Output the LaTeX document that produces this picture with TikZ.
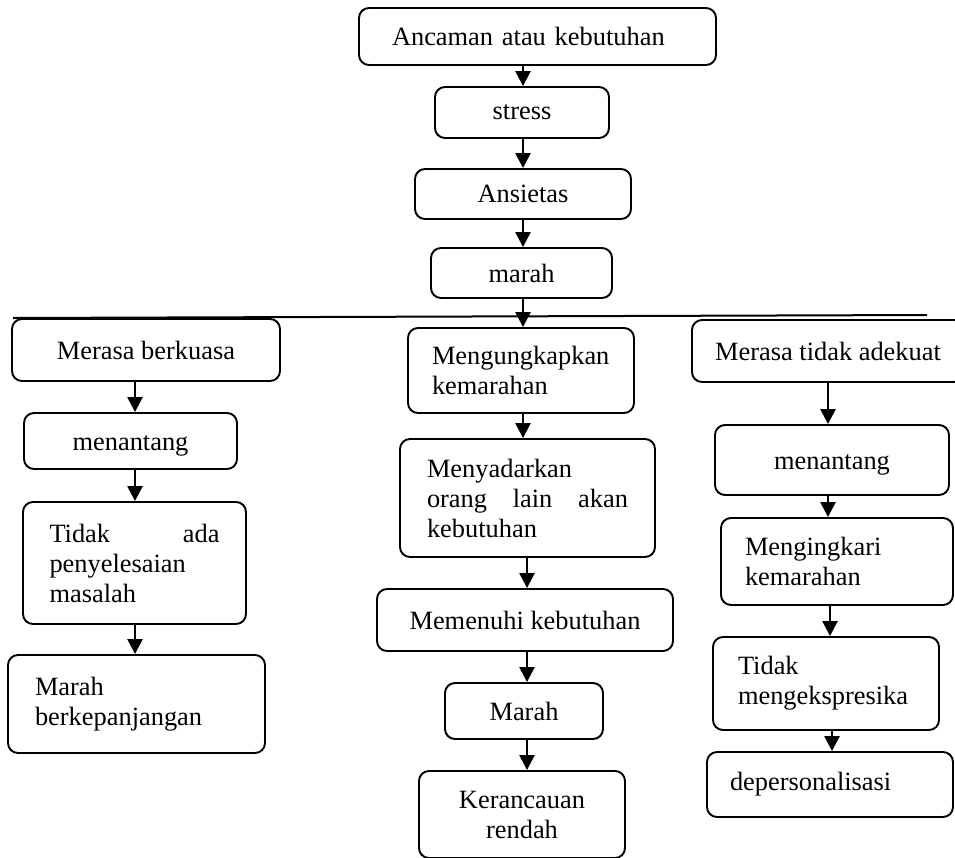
\documentclass[tikz,border=0pt]{standalone}
\usepackage{fontspec}
\setmainfont{Liberation Serif}
\usetikzlibrary{arrows.meta}
\begin{document}
\begin{tikzpicture}[x=1pt,y=-1pt,
  box/.style={draw, line width=1.9pt, rounded corners=10pt, inner sep=0pt,
    font=\fontsize{26.4}{30}\selectfont},
  cbox/.style={box, align=center},
  lbox/.style={box, align=left},
  arr/.style={line width=2.5pt, -{Triangle[length=15pt,width=15pt]}},
  hline/.style={line width=2pt}
  ]
\useasboundingbox (0,0) rectangle (955,857);
\fill[white] (0,0) rectangle (955,857);
\clip (0,0) rectangle (955,857);

% top chain
\node[lbox, minimum width=357pt, minimum height=57pt, inner xsep=33pt, text width=291pt] (top) at (537.5,36.5) {Ancaman atau kebutuhan};
\node[cbox, minimum width=174pt, minimum height=51pt] (stress) at (522,112.5) {stress};
\node[cbox, minimum width=216pt, minimum height=50pt] (ansietas) at (523,194) {Ansietas};
\node[cbox, minimum width=181pt, minimum height=50pt] (marah) at (521.5,273) {marah};

% left column
\node[cbox, minimum width=268pt, minimum height=62pt] (L1) at (146,350) {Merasa berkuasa};
\node[cbox, minimum width=213pt, minimum height=56pt, text height=25pt] (L2) at (130.5,441) {menantang};
\node[lbox, minimum height=122pt, inner xsep=26.5pt, text width=170pt] (L3) at (134.5,563) {Tidak\hfill ada\\penyelesaian\\masalah};
\node[lbox, minimum height=98pt, inner xsep=27pt, text width=203pt] (L4) at (136.5,704) {Marah\\berkepanjangan};

% middle column
\node[lbox, minimum height=85pt, inner xsep=24pt, text width=178pt] (M1) at (521,370.5) {Mengungkapkan\\kemarahan};
\node[lbox, minimum height=118pt, inner xsep=27pt, text width=201pt] (M2) at (527.5,498) {Menyadarkan\\orang\hfill lain\hfill akan\\kebutuhan};
\node[cbox, minimum width=296pt, minimum height=62pt] (M3) at (525,620) {Memenuhi kebutuhan};
\node[cbox, minimum width=158pt, minimum height=56pt] (M4) at (524,711) {Marah};
\node[cbox, minimum width=206pt, minimum height=87pt] (M5) at (522,814.5) {Kerancauan\\rendah};

% right column
\node[cbox, minimum width=272pt, minimum height=62pt] (R1) at (828,351) {Merasa tidak adekuat};
\node[cbox, minimum width=234pt, minimum height=70pt, text height=24pt] (R2) at (832,460) {menantang};
\node[lbox, minimum height=87pt, inner xsep=24pt, text width=184pt] (R3) at (837,561.5) {Mengingkari\\kemarahan};
\node[lbox, minimum height=93pt, inner xsep=25pt, text width=176pt] (R4) at (826,683.5) {Tidak\\mengekspresika};
\node[lbox, minimum height=65pt, inner xsep=23pt, text width=200pt] (R5) at (830,784.5) {depersonalisasi};

% column coordinates
\coordinate (cM) at (523,0);
\coordinate (cM2) at (527,0);
\coordinate (cL) at (135,0);
\coordinate (cR) at (828,0);
\coordinate (cR2) at (830,0);
\coordinate (cR3) at (832,0);

% horizontal branch line
\coordinate (hl) at (13,318);
\coordinate (hr) at (927,315);
\draw[hline] (hl) -- (hr);

% arrows top chain
\draw[arr] (top.south -| cM) -- (stress.north -| cM);
\draw[arr] (stress.south -| cM) -- (ansietas.north -| cM);
\draw[arr] (ansietas.south -| cM) -- (marah.north -| cM);
\draw[arr] (marah.south -| cM) -- (M1.north -| cM);

% left arrows
\draw[arr] (L1.south -| cL) -- (L2.north -| cL);
\draw[arr] (L2.south -| cL) -- (L3.north -| cL);
\draw[arr] (L3.south -| cL) -- (L4.north -| cL);

% middle arrows
\draw[arr] (M1.south -| cM) -- (M2.north -| cM);
\draw[arr] (M2.south -| cM2) -- (M3.north -| cM2);
\draw[arr] (M3.south -| cM2) -- (M4.north -| cM2);
\draw[arr] (M4.south -| cM2) -- (M5.north -| cM2);

% right arrows
\draw[arr] (R1.south -| cR) -- (R2.north -| cR);
\draw[arr] (R2.south -| cR) -- (R3.north -| cR);
\draw[arr] (R3.south -| cR2) -- (R4.north -| cR2);
\draw[arr] (R4.south -| cR3) -- (R5.north -| cR3);
\end{tikzpicture}
\end{document}
